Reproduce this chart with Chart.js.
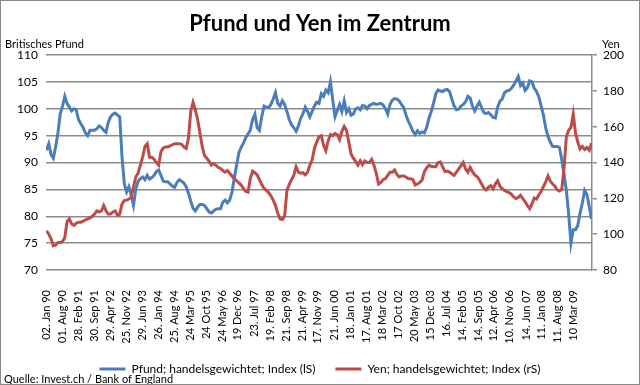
<!DOCTYPE html>
<html><head><meta charset="utf-8">
<script src="https://cdn.jsdelivr.net/npm/chart.js@4"></script>
<style>html,body{margin:0;padding:0;background:#fff}</style>
</head><body><canvas id="c" width="640" height="385"></canvas>
<script>
const FONT = 'Lato, "Open Sans", sans-serif';
const titleText = 'Pfund und Yen im Zentrum';
const leftAxisTitle = 'Britisches Pfund';
const rightAxisTitle = 'Yen';
const sourceText = 'Quelle: Invest.ch / Bank of England';
const seriesNames = ['Pfund; handelsgewichtet; Index (lS)', 'Yen; handelsgewichtet; Index (rS)'];

const tickLabels = ['02. Jan 90','01. Aug 90','28. Feb 91','30. Sep 91','29. Apr 92','25. Nov 92','29. Jun 93','26. Jan 94','25. Aug 94','24 Mar 95','24 Oct 95','24 May 96','19 Dec 96','23. Jul 97','19. Feb 98','21. Sep 98','21. Apr 99','17. Nov 99','21. Jun 00','18. Jan 01','17. Aug 01','18 Mar 02','17 Oct 02','20 May 03','15 Dec 03','16. Jul 04','14. Feb 05','14. Sep 05','12. Apr 06','10. Nov 06','14. Jun 07','11. Jan 08','11. Aug 08','10 Mar 09'];
const tickDates = ['1990-01-02','1990-08-01','1991-02-28','1991-09-30','1992-04-29','1992-11-25','1993-06-29','1994-01-26','1994-08-25','1995-03-24','1995-10-24','1996-05-24','1996-12-19','1997-07-23','1998-02-19','1998-09-21','1999-04-21','1999-11-17','2000-06-21','2001-01-18','2001-08-17','2002-03-18','2002-10-17','2003-05-20','2003-12-15','2004-07-16','2005-02-14','2005-09-14','2006-04-12','2006-11-10','2007-06-14','2008-01-11','2008-08-11','2009-03-10'];

// monthly values from Jan 1990
const pfund = [
92.3,93.5,91.5,90.8,92.9,95.5,99,100.5,102.3,101,100.3,99.6,
100,99.8,98,97.2,96.5,95.5,95,96,96,96,96.3,96.8,
96.5,96,95.6,97.5,98.5,99,99.2,98.8,98.5,91,86,84.5,
85.5,84,82,85,86.5,87,87.3,86.8,87.6,86.9,87.2,87.6,
88.3,88.6,87.6,86.5,86.4,86.4,86,85.6,85.4,86.3,86.8,86.5,
86.2,85.5,84.3,82.8,81.5,81,81.7,82.2,82.2,82,81.4,80.8,
80.6,81,81.3,81.4,81.4,82.6,83,82.5,83,84.5,87,89.5,
91.8,92.8,93.6,94.6,95.3,96,98,99,96.5,96,98.5,100.5,
100.3,100.2,100.8,101.8,103,101,100.5,101.5,100.8,99.5,98,97,
96.5,95.8,96.8,98.2,99.1,100.3,99.5,98.5,99.5,100.5,101.2,101,
102.8,102.3,103.5,103,105,101.6,98.5,99.7,100.8,99.5,101.5,99.3,
100,98.8,99,100,100.2,99.8,100.6,100.5,100,100.6,100.8,101,
100.8,100.9,101,100.7,100,99,100.8,101.6,101.9,101.8,101.5,100.8,
100.2,98.8,97.7,96.8,95.8,95.2,95.9,95.4,95.7,95.5,96.5,98.2,
99.5,101,102.8,103.5,103.3,103.2,103.5,103.6,103.2,101.8,100.5,99.8,
99.9,100.5,100.8,101.3,102.3,102,100.5,99.6,100.5,101.2,100.2,99.3,
99.1,99.3,98.9,98.4,98.3,100.3,101.4,101.8,103,103.3,103.4,103.8,
104.4,105.2,106,104.3,104.8,103.4,103.9,105.2,105,103.8,103.2,102.2,
100.5,98.8,96.4,94.8,93.8,93,93,93,92.8,90.5,87.8,84.8,
80.5,75,77.5,77.5,78.3,80.6,82.5,84.8,84,81.8,79.5
];
const yen = [
101.9,100.1,97.4,93.5,93.8,95.3,95.3,95.9,98,107,108.5,105.8,
104.9,106.1,106.7,106.7,107.3,107.9,108.5,109.1,110,111.2,113,112.4,
113,116,113,111.2,111.2,112.4,113,110.6,111.2,116.9,118.7,119,
119.6,120.5,126.5,131.9,134,138.5,143,149,150.5,143,143,141.8,
140,138.5,146,148.1,148.7,148.7,149.3,149.9,150.5,150.5,150.5,150.2,
148.7,147.8,153.5,168.5,173.6,169.4,164,156.5,149,143.9,142.4,140.6,
138.5,139.4,138.5,137.3,136.7,135.5,134.6,135.5,134,132.5,131,129.8,
128.6,127.4,125.6,123.8,123.5,131,135.2,134.3,133.1,130.4,127.7,125.6,
124.4,123.2,121.4,119,116,111.5,108.5,108.2,110.3,124.4,127.7,130.4,
132.8,137.6,134.6,134,134.3,133.1,134.6,138.5,141.5,147.8,151.4,154.4,
155,149.6,146.6,152,155.6,155,156.2,155.6,152.9,157.4,160.1,158,
151.4,144.8,142.4,140.6,138.5,140.9,138.8,140.9,140,140,141.8,138.5,
134,128,128.9,130.4,131,132.8,134.6,134.6,135.8,133.4,131.9,132.5,
132.5,131.9,131,131,130.4,127.4,128,128.9,130.1,134.9,137,138.5,
137.9,137.6,137.6,140,140.3,137.6,134.9,135.2,134.6,133.7,132.8,134.6,
136.4,138.2,140,136.4,134.6,137.3,134.9,133.1,132.2,130.4,128,125.6,
124.7,126.2,127.1,125.3,128,129.8,126.8,125.3,124.4,123.8,123.2,122.3,
120.8,119.9,120.5,121.7,119.9,118.1,116,114.2,116.9,120.2,119.6,122,
123.8,126.5,129.2,132.5,129.5,128,126.8,124.7,124.1,125,137,154.4,
158,159.5,167,156.5,151.4,147.5,149,147.2,148.4,146.9,150.8
];

function monthIndex(s){const p=s.split('-').map(Number);return (p[0]-1990)*12+(p[1]-1)+(p[2]-1)/30.4;}
const tickValues = tickDates.map(monthIndex);

const GRID = '#8c8c8c';
const extras = {
  id:'extras',
  afterDraw(chart){
    const ctx=chart.ctx; ctx.save();
    ctx.fillStyle='#000'; ctx.font='11px '+FONT; ctx.textBaseline='middle'; ctx.textAlign='left';
    ctx.fillText(leftAxisTitle,5,44);
    ctx.fillText(rightAxisTitle,602,44);
    ctx.fillText(sourceText,4,379);
    ctx.strokeStyle='#898989'; ctx.lineWidth=1; ctx.strokeRect(0.5,0.5,639,384);
    ctx.restore();
  }
};

new Chart(document.getElementById('c'), {
  type:'line',
  data:{datasets:[
    {label:seriesNames[0], data:pfund.map((v,i)=>({x:i,y:v})), yAxisID:'y', borderColor:'#4a7ebb', backgroundColor:'#4a7ebb', borderWidth:3, pointRadius:0, tension:0, order:2},
    {label:seriesNames[1], data:yen.map((v,i)=>({x:i,y:v})), yAxisID:'y1', borderColor:'#be4b48', backgroundColor:'#be4b48', borderWidth:3, pointRadius:0, tension:0, order:1}
  ]},
  options:{
    responsive:false, animation:false, devicePixelRatio:1,
    layout:{padding:0},
    plugins:{
      title:{display:true,text:titleText,font:{family:FONT,size:22,weight:'bold',lineHeight:1.2},color:'#000',padding:{top:11,bottom:17.6}},
      legend:{position:'bottom', labels:{boxWidth:26, boxHeight:0, padding:20, font:{family:FONT,size:12}, color:'#000', sort:(a,b)=>a.datasetIndex-b.datasetIndex}},
      tooltip:{enabled:false}
    },
    scales:{
      x:{type:'linear', min:-0.2, max:238.2,
        afterBuildTicks:s=>{s.ticks=tickValues.map(v=>({value:v}));},
        afterFit:s=>{s.height=73;},
        grid:{display:false}, border:{display:false},
        ticks:{autoSkip:false,maxRotation:90,minRotation:90,padding:12,font:{family:FONT,size:11},color:'#000',callback:(v,i)=>tickLabels[i]}},
      y:{position:'left',min:70,max:110,
        ticks:{stepSize:5,padding:8,font:{family:FONT,size:12},color:'#000'},
        grid:{color:GRID,lineWidth:1.5,drawTicks:false}, border:{display:false},
        afterFit:s=>{s.width=46;}},
      y1:{position:'right',min:80,max:200,
        ticks:{stepSize:20,padding:6,font:{family:FONT,size:12},color:'#000'},
        grid:{drawOnChartArea:false,drawTicks:true,tickLength:5,color:GRID,lineWidth:1.5},
        border:{display:true,color:GRID,width:1.5},
        afterFit:s=>{s.width=48;}}
    }
  },
  plugins:[extras]
});
</script></body></html>
